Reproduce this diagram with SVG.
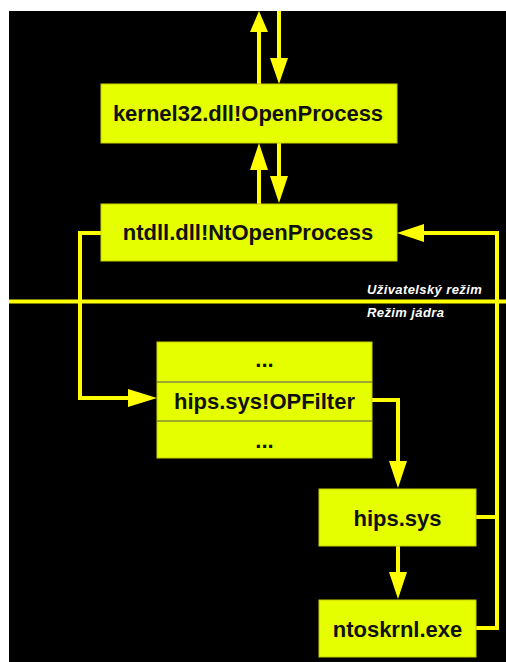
<svg xmlns="http://www.w3.org/2000/svg" width="506" height="662" viewBox="0 0 506 662">
<style>
.box{fill:#e6ff00;stroke:#c8d000;stroke-width:1}
.t{font-family:"Liberation Sans",Arial,sans-serif;font-weight:bold;font-size:22px;fill:#111;text-anchor:middle}
.lbl{font-family:"Liberation Sans",Arial,sans-serif;font-weight:bold;font-style:italic;font-size:13px;fill:#fff;letter-spacing:0.4px}
.ln{fill:none;stroke:#ffff00;stroke-width:4;stroke-linejoin:miter}
.hd{fill:#ffff00}
.div{stroke:#555;stroke-width:1}
</style>
<rect x="0" y="0" width="506" height="662" fill="#fff"/>
<rect x="9" y="11" width="497" height="651" fill="#000"/>
<g id="connectors">
<line class="ln" x1="259" y1="84" x2="259" y2="30"/>
<polygon class="hd" points="250,32 268,32 259,11"/>
<line class="ln" x1="279" y1="11" x2="279" y2="60"/>
<polygon class="hd" points="270,58 288,58 279,84"/>
<line class="ln" x1="259" y1="204" x2="259" y2="168"/>
<polygon class="hd" points="250,170 268,170 259,143"/>
<line class="ln" x1="279" y1="143" x2="279" y2="178"/>
<polygon class="hd" points="270,176 288,176 279,203"/>
<line x1="9" y1="301.5" x2="506" y2="301.5" stroke="#ffff00" stroke-width="4"/>
<polyline class="ln" points="101,233 80,233 80,398 130,398"/>
<polygon class="hd" points="128,389 128,407 157,398"/>
<polyline class="ln" points="372,400 398,400 398,464"/>
<polygon class="hd" points="389,461 407,461 398,488"/>
<line class="ln" x1="398" y1="546" x2="398" y2="574"/>
<polygon class="hd" points="389,572 407,572 398,599"/>
<polyline class="ln" points="476,628 497,628 497,233 420,233"/>
<line class="ln" x1="476" y1="517" x2="497" y2="517"/>
<polygon class="hd" points="424,224 424,242 397,233"/>
</g>
<g id="kernel32">
<rect class="box" x="101" y="84" width="296" height="59"/>
<text class="t" x="248" y="121">kernel32.dll!OpenProcess</text>
</g>
<g id="ntdll">
<rect class="box" x="101" y="204" width="296" height="57"/>
<text class="t" x="248" y="240">ntdll.dll!NtOpenProcess</text>
</g>
<g id="mode-labels">
<text class="lbl" x="367" y="294">Uživatelský režim</text>
<text class="lbl" x="367" y="317">Režim jádra</text>
</g>
<g id="filter-stack">
<rect class="box" x="157" y="342" width="215" height="116"/>
<line class="div" x1="157" y1="382" x2="372" y2="382"/>
<line class="div" x1="157" y1="421" x2="372" y2="421"/>
<text class="t" x="264.5" y="367">...</text>
<text class="t" x="264.5" y="409">hips.sys!OPFilter</text>
<text class="t" x="264.5" y="448">...</text>
</g>
<g id="hips">
<rect class="box" x="319" y="489" width="157" height="57"/>
<text class="t" x="397.5" y="526">hips.sys</text>
</g>
<g id="ntoskrnl">
<rect class="box" x="319" y="600" width="157" height="57"/>
<text class="t" x="397.5" y="637">ntoskrnl.exe</text>
</g>
</svg>
